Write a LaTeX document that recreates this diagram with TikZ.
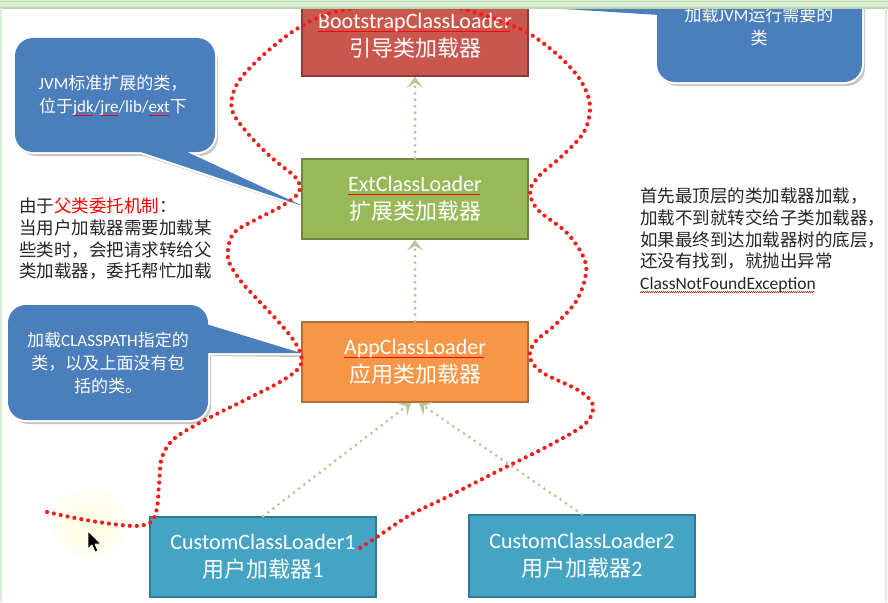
\documentclass[tikz,border=0pt]{standalone}
\usepackage{fontspec}
\setmainfont{Carlito}
\newfontfamily\cjk{Noto Sans CJK SC}
\usetikzlibrary{arrows.meta}
\newsavebox\sqgbox
\newcommand\sqg[1]{\sbox\sqgbox{#1}\leavevmode\rlap{\raisebox{-3.2pt}{\textcolor{red}{\hbox to \wd\sqgbox{\leaders\hbox to 2pt{\rule{1pt}{0.6pt}\rule[0.6pt]{1pt}{0.6pt}}\hfill}}}}\usebox\sqgbox}
\definecolor{bootfill}{HTML}{C9574D}
\definecolor{bootline}{HTML}{8E3A35}
\definecolor{extfill}{HTML}{98B957}
\definecolor{extline}{HTML}{6E873D}
\definecolor{appfill}{HTML}{F79646}
\definecolor{appline}{HTML}{B66D31}
\definecolor{custfill}{HTML}{45A3C4}
\definecolor{custline}{HTML}{2F7A95}
\definecolor{callblue}{HTML}{4A7EBC}
\definecolor{arrowc}{HTML}{BCC49A}
\definecolor{dotred}{HTML}{F51C1C}
\definecolor{txt}{HTML}{262626}
\definecolor{band}{HTML}{DCEDD6}
\definecolor{bandline}{HTML}{B5D6AC}
\tikzset{
  box/.style={draw, line width=1.5pt, minimum width=226pt, minimum height=80pt,
    inner sep=0pt, align=center, text=white, font=\fontsize{22}{28}\selectfont},
  garrow/.style={draw=arrowc, line width=3.2pt, dash pattern=on 0pt off 6.5pt, line cap=round,
    -{Stealth[length=11pt,width=16pt,inset=5pt]}},
  reddots/.style={draw=dotred, line width=4.2pt, dash pattern=on 0pt off 7pt, line cap=round},
  calltext/.style={inner sep=0pt, align=center, text=white, font=\fontsize{17}{23}\selectfont},
  sidetext/.style={inner sep=0pt, align=left, text=txt, font=\cjk\fontsize{17.5}{21.6}\selectfont},
  cshadow/.style={fill=black!22},
  cedge/.style={draw=white, line width=4pt, line join=round},
  cfill/.style={fill=callblue}
}
\begin{document}
\begin{tikzpicture}[x=1pt,y=-1pt]
\useasboundingbox (0,0) rectangle (888,602);
\fill[white] (0,0) rectangle (888,602);

% cursor highlight
\fill[yellow!5] (90,523) ellipse (38pt and 34pt);
\fill[yellow!9] (90,526) ellipse (24pt and 22pt);

% callout 1
\fill[cshadow,rounded corners=18pt] (18,42) rectangle (218,156);
\fill[cshadow] (138,154) -- (305,209) -- (186,154) -- cycle;
\draw[cedge,rounded corners=18pt] (15,38) rectangle (215,152);
\draw[cedge] (135,150) -- (303,206) -- (183,150);
\fill[cfill,rounded corners=18pt] (15,38) rectangle (215,152);
\fill[cfill] (135,150) -- (303,206) -- (183,150) -- cycle;
\node[calltext, anchor=north] (c1txt) at (113,75) {JVM{\cjk 标准扩展的类，}\\{\cjk 位于}\sqg{jdk}/\sqg{jre}/lib/\sqg{ext}{\cjk 下}};

% callout 2
\fill[cshadow,rounded corners=18pt] (11,309) rectangle (211,424);
\fill[cshadow] (209,327) -- (304,357) -- (209,356) -- cycle;
\draw[cedge,rounded corners=18pt] (8,305) rectangle (208,420);
\draw[cedge] (206,324) -- (301,353) -- (206,353);
\fill[cfill,rounded corners=18pt] (8,305) rectangle (208,420);
\fill[cfill] (206,324) -- (301,353) -- (206,353) -- cycle;
\node[calltext, anchor=north] (c2txt) at (108,332) {{\cjk 加载}CLASSPATH{\cjk 指定的}\\{\cjk 类，以及上面没有包}\\{\cjk 括的类。}};

% callout 3
\fill[cshadow,rounded corners=18pt] (660,-40) rectangle (865,86);
\draw[cedge,rounded corners=18pt] (657,-40) rectangle (862,82);
\draw[cedge] (659,-20) -- (470,3) -- (659,15);
\fill[cfill,rounded corners=18pt] (657,-40) rectangle (862,82);
\fill[cfill] (659,-20) -- (470,3) -- (659,15) -- cycle;
\node[calltext, anchor=north] (c3txt) at (759,7) {{\cjk 加载}JVM{\cjk 运行需要的}\\{\cjk 类}};

% boxes
\node[box, fill=bootfill, draw=bootline] (boot) at (415,36) {\sqg{BootstrapClassLoader}\\{\cjk 引导类加载器}};
\node[box, fill=extfill, draw=extline] (ext) at (415,199) {\sqg{ExtClassLoader}\\{\cjk 扩展类加载器}};
\node[box, fill=appfill, draw=appline] (app) at (415,362) {\sqg{AppClassLoader}\\{\cjk 应用类加载器}};
\node[box, fill=custfill, draw=custline] (cu1) at (263,557) {CustomClassLoader1\\{\cjk 用户加载器}1};
\node[box, fill=custfill, draw=custline, minimum height=82pt] (cu2) at (582,556) {CustomClassLoader2\\{\cjk 用户加载器}2};

% arrows
\draw[garrow] (ext.north) -- (boot.south);
\draw[garrow] (app.north) -- (ext.south);
\draw[garrow] (cu1.north) -- ([xshift=-4pt]app.south);
\draw[garrow] (cu2.north) -- ([xshift=4pt]app.south);

% side texts
\node[sidetext, anchor=north west] (lefttxt) at (19,198) {由于\textcolor{red}{父类委托机制}：\\当用户加载器需要加载某\\些类时，会把请求转给父\\类加载器，委托帮忙加载};
\node[sidetext, anchor=north west] (righttxt) at (640,188) {首先最顶层的类加载器加载，\\加载不到就转交给子类加载器，\\如果最终到达加载器树的底层，\\还没有找到，就抛出异常\\{\rmfamily\sqg{ClassNotFoundException}}};

% red dotted curve
\draw[reddots] plot[smooth, tension=0.55] coordinates {
 (47,512) (75,518) (105,523) (135,526) (151,522) (157,508) (159,485) (162,457) (175,438)
 (205,420) (245,400) (280,382) (299,368) (301,355) (292,338) (275,318) (257,299) (240,280)
 (228,258) (233,234) (255,220) (282,206) (299,192) (296,178) (272,158) (250,136) (232,110)
 (237,84) (260,58) (292,32) (322,16) (355,8) (400,4) (440,5) (470,11) (503,22) (530,34)
 (560,57) (581,81) (590,106) (584,132) (562,156) (540,175) (530,191) (538,210) (568,234)
 (586,265) (578,298) (556,324) (535,342) (530,358) (543,373) (578,390) (593,405) (585,424)
 (550,445) (500,470) (447,497) (410,515) (377,537) (360,548)};

% cursor
\filldraw[fill=black, draw=white, line width=0.8pt, line join=round] (88,531) -- (88,549) -- (92,545) -- (95,552) -- (98,551) -- (95,544) -- (101,544) -- cycle;

% frame band
\fill[band] (0,0) rectangle (888,8);
\draw[bandline, line width=1pt] (0,1.5) -- (888,1.5);
\draw[bandline, line width=1.2pt] (0,8) -- (888,8);
\draw[band, line width=2pt] (1,8) -- (1,602);
\draw[band, line width=2pt] (886,8) -- (886,602);
\end{tikzpicture}
\end{document}
